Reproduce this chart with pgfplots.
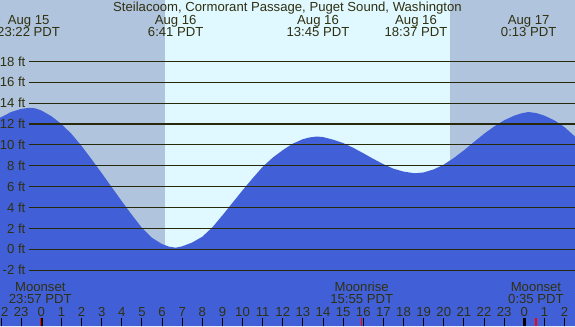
\documentclass[border=0pt]{standalone}
\usepackage{pgfplots}
\pgfplotsset{compat=1.18}
\usepackage{fontspec}
\setmainfont{Liberation Sans}
\definecolor{night}{RGB}{176,196,222}
\definecolor{day}{RGB}{224,248,255}
\definecolor{tidecol}{RGB}{65,96,215}
\definecolor{ink}{RGB}{48,48,16}
\definecolor{gridc}{RGB}{40,40,10}
\newcommand{\lblfont}{\fontsize{9.85}{11.8}\selectfont}
\begin{document}
\lblfont
\begin{tikzpicture}
\begin{axis}[
  scale only axis, width=431.25pt, height=244.5pt,
  xmin=-2.052, xmax=26.52, ymin=-7.35, ymax=23.88,
  axis line style={draw=none},
  axis on top=true,
  clip=false,
  xtick={-2,...,26},
  xticklabels={22,23,0,1,2,3,4,5,6,7,8,9,10,11,12,13,14,15,16,17,18,19,20,21,22,23,0,1,2},
  xtick pos=bottom, tick align=inside, major tick length=6pt,
  xtick style={black, line width=0.75pt},
  xticklabel style={anchor=base, yshift=7.5pt, text=ink, font=\lblfont},
  ytick={-2,0,...,18},
  yticklabels={-2 ft,0 ft,2 ft,4 ft,6 ft,8 ft,10 ft,12 ft,14 ft,16 ft,18 ft},
  ytick pos=left, ytick style={draw=none},
  yticklabel style={anchor=east, xshift=22.5pt, text=ink, font=\lblfont},
  /pgf/number format/assume math mode=true,
]
\fill[night] (axis cs:-2.052,-7.35) rectangle (axis cs:26.52,23.88);
\fill[day] (axis cs:6.147,-7.35) rectangle (axis cs:20.31,23.88);

\addplot[fill=tidecol, draw=none] coordinates {
(-2.052,-7.35)
(-2.052,12.6) (-1.5,13.15) (-1,13.45) (-0.6,13.55) (-0.3,13.5) (0,13.3) (0.5,12.75) (1,12.0)
(1.5,11.05) (2,9.9) (2.5,8.62) (3,7.3) (3.5,5.95) (4,4.6) (4.5,3.3) (5,2.05)
(5.5,1.1) (6,0.5) (6.35,0.25) (6.68,0.15) (7,0.28) (7.5,0.65) (8,1.2) (8.5,2.1) (9,3.25)
(9.5,4.45) (10,5.65) (10.5,6.8) (11,7.9) (11.5,8.78) (12,9.5) (12.5,10.12)
(13,10.55) (13.35,10.72) (13.7,10.8) (14,10.75) (14.5,10.5) (15,10.18) (15.5,9.72) (16,9.2)
(16.5,8.66) (17,8.15) (17.5,7.72) (18,7.44) (18.55,7.28) (19,7.36) (19.5,7.65)
(20,8.11) (20.5,8.75) (21,9.48) (21.5,10.28) (22,11.06) (22.5,11.76) (23,12.36)
(23.5,12.8) (23.85,13.02) (24.2,13.15) (24.6,13.05) (25,12.8) (25.5,12.35) (26,11.7) (26.52,10.8)
(26.52,-7.35)
} -- cycle;

\pgfplotsinvokeforeach{-2,0,...,18}{
  \draw[gridc, line width=0.8pt] (axis cs:-0.611,#1) -- (axis cs:26.52,#1);
}

% special ticks
\draw[black, line width=2.2pt] (axis cs:0,-7.35) -- (axis cs:0,-6.58);
\draw[black, line width=2.2pt] (axis cs:24,-7.35) -- (axis cs:24,-6.58);
\draw[red, line width=1pt] (axis cs:-0.05,-7.35) -- (axis cs:-0.05,-6.58);
\draw[red, line width=1pt] (axis cs:15.92,-7.35) -- (axis cs:15.92,-6.58);
\draw[red, line width=1pt] (axis cs:24.58,-7.35) -- (axis cs:24.58,-6.58);

% title
\node[anchor=base, text=ink, inner sep=0pt] at (axis cs:12.23,22.76) {Steilacoom, Cormorant Passage, Puget Sound, Washington};

% tide extreme labels
\node[anchor=base, text=ink, inner sep=0pt] at (axis cs:-0.63,21.55) {Aug 15};
\node[anchor=base, text=ink, inner sep=0pt] at (axis cs:-0.63,20.43) {23:22 PDT};
\node[anchor=base, text=ink, inner sep=0pt] at (axis cs:6.68,21.55) {Aug 16};
\node[anchor=base, text=ink, inner sep=0pt] at (axis cs:6.68,20.43) {6:41 PDT};
\node[anchor=base, text=ink, inner sep=0pt] at (axis cs:13.75,21.55) {Aug 16};
\node[anchor=base, text=ink, inner sep=0pt] at (axis cs:13.75,20.43) {13:45 PDT};
\node[anchor=base, text=ink, inner sep=0pt] at (axis cs:18.62,21.55) {Aug 16};
\node[anchor=base, text=ink, inner sep=0pt] at (axis cs:18.62,20.43) {18:37 PDT};
\node[anchor=base, text=ink, inner sep=0pt] at (axis cs:24.22,21.55) {Aug 17};
\node[anchor=base, text=ink, inner sep=0pt] at (axis cs:24.22,20.43) {0:13 PDT};

% moon labels
\node[anchor=base, text=ink, inner sep=0pt] at (axis cs:-0.05,-4.09) {Moonset};
\node[anchor=base, text=ink, inner sep=0pt] at (axis cs:-0.05,-5.24) {23:57 PDT};
\node[anchor=base, text=ink, inner sep=0pt] at (axis cs:15.92,-4.09) {Moonrise};
\node[anchor=base, text=ink, inner sep=0pt] at (axis cs:15.92,-5.24) {15:55 PDT};
\node[anchor=base, text=ink, inner sep=0pt] at (axis cs:24.58,-4.09) {Moonset};
\node[anchor=base, text=ink, inner sep=0pt] at (axis cs:24.58,-5.24) {0:35 PDT};
\end{axis}
\pgfresetboundingbox
\path (current axis.south west) rectangle (current axis.north east);
\end{tikzpicture}
\end{document}
